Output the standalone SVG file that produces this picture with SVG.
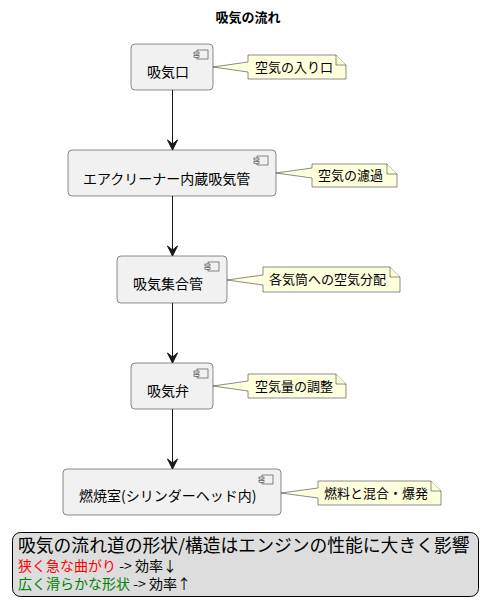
<svg xmlns="http://www.w3.org/2000/svg" width="497" height="615" viewBox="0 0 497 615">
<defs>
<style>
text{font-family:"Noto Sans CJK JP","Noto Sans",sans-serif;fill:#000}
.title{font-size:13px;font-weight:bold}
.nt{font-size:14px}
.nn{font-size:13px}
.box{fill:#F1F1F1;stroke:#181818;stroke-width:0.5}
.note{fill:#FEFFDD;stroke:#181818;stroke-width:0.5}
.icon{fill:#F1F1F1;stroke:#181818;stroke-width:0.5}
.edge{stroke:#181818;stroke-width:1;fill:none}
</style>
<marker id="arr" viewBox="0 0 12 12" refX="11" refY="6" markerWidth="12" markerHeight="12" markerUnits="userSpaceOnUse" orient="auto">
<path d="M1,1 L11,6 L1,11 L5,6 Z" fill="#181818" stroke="#181818" stroke-width="1"/>
</marker>
<symbol id="ic" overflow="visible">
<rect x="3" y="0" width="11" height="9" class="icon"/>
<rect x="0" y="2" width="5" height="2" class="icon"/>
<rect x="0" y="5.5" width="5" height="2" class="icon"/>
</symbol>
</defs>
<rect width="497" height="615" fill="#FFFFFF"/>
<text class="title" x="248" y="22" text-anchor="middle">吸気の流れ</text>

<g id="edges">
<line class="edge" x1="172.5" y1="90" x2="172.5" y2="150" marker-end="url(#arr)"/>
<line class="edge" x1="172.5" y1="196" x2="172.5" y2="256" marker-end="url(#arr)"/>
<line class="edge" x1="172.5" y1="303" x2="172.5" y2="363" marker-end="url(#arr)"/>
<line class="edge" x1="172.5" y1="409" x2="172.5" y2="469" marker-end="url(#arr)"/>
</g>

<g id="n1">
<rect class="box" x="131" y="44" width="82" height="46" rx="4"/>
<use href="#ic" x="194" y="50"/>
<text class="nt" x="147" y="77">吸気口</text>
</g>
<g id="note1">
<path class="note" d="M248,55 L336,55 L346,65 L346,79 L248,79 L248,72 L213,67 L248,62 Z"/>
<path class="note" d="M336,55 L336,65 L346,65"/>
<text class="nn" x="255" y="72">空気の入り口</text>
</g>

<g id="n2">
<rect class="box" x="68" y="150" width="208" height="46" rx="4"/>
<use href="#ic" x="254" y="156"/>
<text class="nt" x="83" y="184">エアクリーナー内蔵吸気管</text>
</g>
<g id="note2">
<path class="note" d="M312,164 L387,164 L397,174 L397,187 L312,187 L312,178 L276,173 L312,168 Z"/>
<path class="note" d="M387,164 L387,174 L397,174"/>
<text class="nn" x="318" y="180">空気の濾過</text>
</g>

<g id="n3">
<rect class="box" x="117" y="256" width="110" height="47" rx="4"/>
<use href="#ic" x="205" y="262"/>
<text class="nt" x="133" y="289">吸気集合管</text>
</g>
<g id="note3">
<path class="note" d="M263,267 L390,267 L400,277 L400,292 L263,292 L263,285 L227,280 L263,275 Z"/>
<path class="note" d="M390,267 L390,277 L400,277"/>
<text class="nn" x="269" y="284">各気筒への空気分配</text>
</g>

<g id="n4">
<rect class="box" x="131" y="363" width="82" height="46" rx="4"/>
<use href="#ic" x="194" y="369"/>
<text class="nt" x="147" y="396">吸気弁</text>
</g>
<g id="note4">
<path class="note" d="M248,374 L336,374 L346,384 L346,398 L248,398 L248,391 L213,386 L248,381 Z"/>
<path class="note" d="M336,374 L336,384 L346,384"/>
<text class="nn" x="255" y="391">空気量の調整</text>
</g>

<g id="n5">
<rect class="box" x="63" y="469" width="218" height="46" rx="4"/>
<use href="#ic" x="259" y="475"/>
<text class="nt" x="79" y="501">燃焼室(シリンダーヘッド内)</text>
</g>
<g id="note5">
<path class="note" d="M318,481 L431,481 L441,491 L441,505 L318,505 L318,498 L281,493 L318,488 Z"/>
<path class="note" d="M431,481 L431,491 L441,491"/>
<text class="nn" x="324" y="498">燃料と混合・爆発</text>
</g>

<g id="legend">
<rect x="12.5" y="532.5" width="466" height="64" rx="8" fill="#DDDDDD" stroke="#000" stroke-width="1"/>
<text x="18" y="552" style="font-size:17.8px">吸気の流れ道の形状/構造はエンジンの性能に大きく影響</text>
<text x="18" y="571" style="font-size:14px"><tspan fill="#FF0000">狭く急な曲がり</tspan> -&gt; 効率↓</text>
<text x="18" y="589" style="font-size:14px"><tspan fill="#008000">広く滑らかな形状</tspan> -&gt; 効率↑</text>
</g>
</svg>
